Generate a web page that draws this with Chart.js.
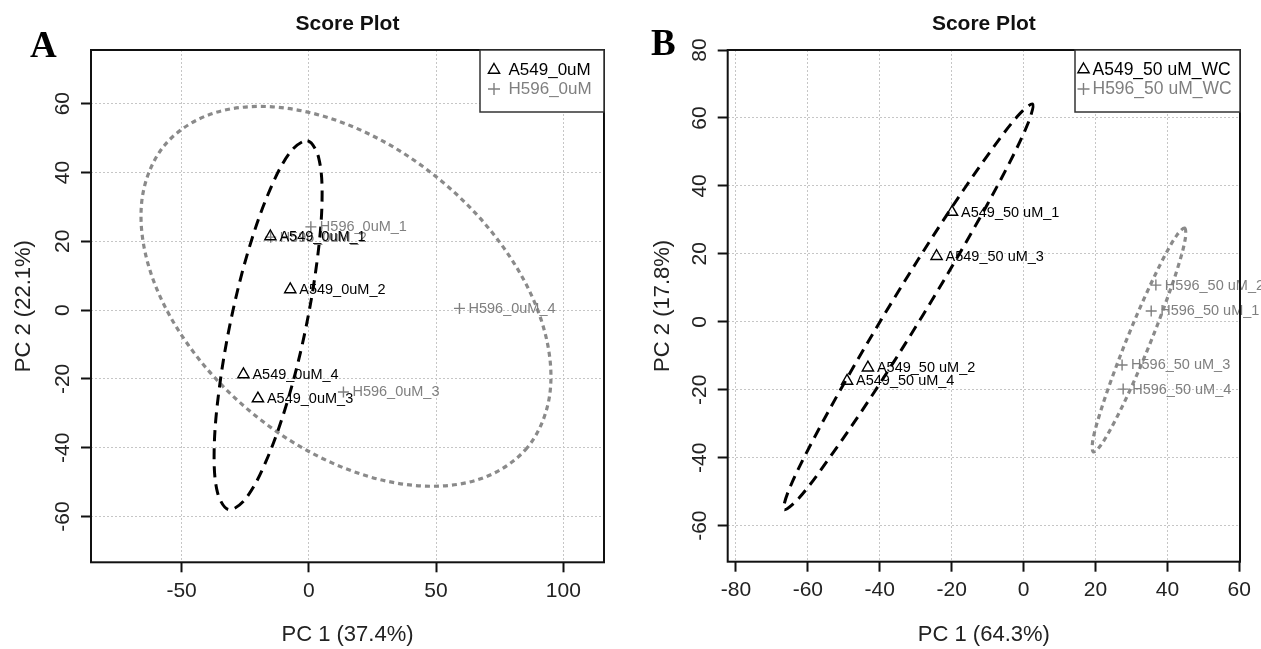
<!DOCTYPE html>
<html>
<head>
<meta charset="utf-8">
<title>Score Plot</title>
<script src="https://cdn.jsdelivr.net/npm/chart.js@4.4.0/dist/chart.umd.min.js"></script>
<style>
  html, body { margin: 0; padding: 0; background: #fff; }
  #wrap { position: relative; width: 1261px; height: 649px; overflow: hidden; }
  canvas { position: absolute; top: 0; }
</style>
</head>
<body>
<div id="wrap">
  <canvas id="chartA" width="630" height="649" style="left:0px"></canvas>
  <canvas id="chartB" width="631" height="649" style="left:630px"></canvas>
</div>
<script>
// ---- panel A : 0uM ----
var groupsA = ['A549_0uM', 'H596_0uM'];
var a549NamesA = ['A549_0uM_1', 'A549_0uM_2', 'A549_0uM_3', 'A549_0uM_4'];
var a549XA = [-15.1, -7.3, -20.0, -25.7];
var a549YA = [21.4, 6.0, -25.7, -18.7];
var h596NamesA = ['H596_0uM_1', 'H596_0uM_2', 'H596_0uM_3', 'H596_0uM_4'];
var h596XA = [0.8, -15.0, 13.6, 59.2];
var h596YA = [24.2, 21.2, -23.8, 0.5];
// 95% ellipses, outline
var a549EllXA = [-0.5, 3.9, 5.2, 3.2, -1.6, -8.6, -16.8, -24.8, -31.5, -35.9, -37.2, -35.2, -30.4, -23.4, -15.2, -7.2];
var a549EllYA = [49.2, 44.2, 31.9, 14.0, -6.7, -27.0, -43.9, -54.8, -58.0, -53.0, -40.7, -22.8, -2.1, 18.2, 35.1, 46.0];
var h596EllXA = [85.8, 66.0, 38.3, 7.0, -23.1, -47.5, -62.4, -65.6, -56.6, -36.8, -9.1, 22.2, 52.3, 76.7, 91.6, 94.8];
var h596EllYA = [-40.0, -49.4, -50.7, -43.7, -29.4, -10.0, 11.5, 31.9, 48.0, 57.4, 58.7, 51.7, 37.4, 18.0, -3.5, -23.9];
var xTicksA = [-50, 0, 50, 100];
var yTicksA = [-60, -40, -20, 0, 20, 40, 60];

// ---- panel B : 50 uM WC ----
var groupsB = ['A549_50 uM_WC', 'H596_50 uM_WC'];
var a549NamesB = ['A549_50 uM_1', 'A549_50 uM_2', 'A549_50 uM_3', 'A549_50 uM_4'];
var a549XB = [-19.9, -43.3, -24.2, -49.1];
var a549YB = [32.3, -13.5, 19.3, -17.4];
var h596NamesB = ['H596_50 uM_1', 'H596_50 uM_2', 'H596_50 uM_3', 'H596_50 uM_4'];
var h596XB = [35.5, 36.8, 27.4, 27.7];
var h596YB = [3.2, 10.8, -12.7, -19.8];
var a549EllXB = [2.5, 1.3, -4.9, -15.2, -28.1, -41.6, -53.7, -62.4, -66.6, -65.4, -59.2, -48.9, -36.0, -22.5, -10.4, -1.7];
var a549EllYB = [64.1, 58.6, 44.8, 24.9, 1.8, -20.8, -39.6, -51.8, -55.3, -49.8, -36.1, -16.2, 6.9, 29.6, 48.4, 60.5];
var h596EllXB = [44.8, 45.0, 43.2, 39.7, 35.1, 30.0, 25.2, 21.5, 19.4, 19.2, 21.0, 24.5, 29.1, 34.2, 39.0, 42.7];
var h596EllYB = [27.6, 24.6, 17.0, 6.1, -6.6, -19.2, -29.6, -36.3, -38.3, -35.3, -27.8, -16.8, -4.1, 8.4, 18.9, 25.6];
var xTicksB = [-80, -60, -40, -20, 0, 20, 40, 60];
var yTicksB = [-60, -40, -20, 0, 20, 40, 60, 80];

var FONT = "'Liberation Sans', Arial, Helvetica, sans-serif";
var SERIF = "'Liberation Serif', 'Times New Roman', serif";
var BLACK = '#000000';
var GREY = '#7f7f7f';

function pts(xs, ys) {
  return xs.map(function (x, i) { return { x: x, y: ys[i] }; });
}

// ellipses are drawn as closed curves
var closeLoop = {
  id: 'closeLoop',
  afterDatasetUpdate: function (chart, args) {
    var ds = chart.data.datasets[args.index];
    var line = args.meta.dataset;
    if (ds.closed && line) {
      line._loop = true;
      line._fullLoop = true;
      line._segments = undefined;
    }
  }
};

function drawSymbol(ctx, style, x, y, r) {
  ctx.beginPath();
  if (style === 'triangle') {
    var s = r * Math.sin(Math.PI / 3);
    ctx.moveTo(x, y - r);
    ctx.lineTo(x + s, y + r / 2);
    ctx.lineTo(x - s, y + r / 2);
    ctx.closePath();
  } else {
    ctx.moveTo(x - r, y); ctx.lineTo(x + r, y);
    ctx.moveTo(x, y - r); ctx.lineTo(x, y + r);
  }
  ctx.stroke();
}

var decor = {
  id: 'decor',
  afterDatasetsDraw: function (chart, args, o) {
    var ctx = chart.ctx, a = chart.chartArea;
    var sets = chart.data.datasets;
    ctx.save();
    // sample names, grey group first so black text sits on top
    ctx.font = '14.5px ' + FONT;
    ctx.textBaseline = 'middle';
    ctx.textAlign = 'left';
    for (var i = sets.length - 1; i >= 0; i--) {
      if (!sets[i].names) continue;
      ctx.fillStyle = sets[i].pointBorderColor;
      chart.getDatasetMeta(i).data.forEach(function (el, j) {
        ctx.fillText(sets[i].names[j], el.x + 9, el.y + 0.5);
      });
    }
    // frame
    ctx.strokeStyle = '#111';
    ctx.lineWidth = 2;
    ctx.strokeRect(a.left, a.top, a.right - a.left, a.bottom - a.top);
    // legend in the top right corner
    var lg = o.legend;
    var lx = a.right - lg.width, ly = a.top;
    ctx.fillStyle = '#fff';
    ctx.fillRect(lx, ly, lg.width, lg.height);
    ctx.lineWidth = 1.5;
    ctx.strokeStyle = '#333';
    ctx.strokeRect(lx, ly, lg.width, lg.height);
    ctx.font = lg.size + 'px ' + FONT;
    var row = 0;
    sets.forEach(function (ds) {
      if (!ds.names) return;
      var yy = ly + lg.rows[row++];
      ctx.strokeStyle = ds.pointBorderColor;
      ctx.fillStyle = ds.pointBorderColor;
      ctx.lineWidth = 1.4;
      drawSymbol(ctx, ds.pointStyle, lx + lg.symX, yy, ds.pointStyle === 'triangle' ? 6.5 : 6);
      ctx.fillText(ds.label, lx + lg.textX, yy + 0.5);
    });
    ctx.restore();
  },
  afterDraw: function (chart, args, o) {
    var ctx = chart.ctx, a = chart.chartArea;
    ctx.save();
    ctx.fillStyle = '#111';
    ctx.textAlign = 'center';
    ctx.textBaseline = 'middle';
    ctx.font = 'bold 21px ' + FONT;
    ctx.fillText('Score Plot', (a.left + a.right) / 2, 24);
    ctx.textAlign = 'left';
    ctx.textBaseline = 'alphabetic';
    ctx.fillStyle = '#000';
    ctx.font = 'bold 37px ' + SERIF;
    ctx.fillText(o.letter, o.letterX, o.letterY);
    ctx.restore();
  }
};

function scorePlot(id, p) {
  var tickFont = { family: FONT, size: 21 };
  var titleFont = { family: FONT, size: 22 };
  var grid = { color: '#c6c6c6', lineWidth: 1, tickLength: 10, tickColor: '#111', tickWidth: 2, tickBorderDash: [] };
  var border = { display: false, dash: [2, 2] };
  return new Chart(document.getElementById(id), {
    type: 'scatter',
    data: {
      datasets: [
        { label: 'ellipse ' + p.groups[0], data: pts(p.ell1X, p.ell1Y), showLine: true, closed: true, spanGaps: true,
          pointRadius: 0, pointHitRadius: 0, borderColor: BLACK, borderWidth: 3, borderDash: [11, 7], tension: 0.34, fill: false },
        { label: 'ellipse ' + p.groups[1], data: pts(p.ell2X, p.ell2Y), showLine: true, closed: true, spanGaps: true,
          pointRadius: 0, pointHitRadius: 0, borderColor: '#8a8a8a', borderWidth: 3.2, borderDash: [5, 4], tension: 0.34, fill: false },
        { label: p.groups[0], names: p.names1, data: pts(p.x1, p.y1), pointStyle: 'triangle', pointRadius: 6.5,
          pointBorderColor: BLACK, pointBackgroundColor: 'rgba(0,0,0,0)', pointBorderWidth: 1.4 },
        { label: p.groups[1], names: p.names2, data: pts(p.x2, p.y2), pointStyle: 'cross', pointRadius: 5.5,
          pointBorderColor: GREY, pointBackgroundColor: 'rgba(0,0,0,0)', pointBorderWidth: 1.4 }
      ]
    },
    options: {
      responsive: false,
      animation: false,
      events: [],
      layout: { padding: { top: 50, right: p.padRight, left: 0, bottom: 0 } },
      scales: {
        x: {
          type: 'linear', min: p.xMin, max: p.xMax,
          afterBuildTicks: function (s) { s.ticks = p.xTicks.map(function (v) { return { value: v }; }); },
          ticks: { font: tickFont, color: '#222', padding: 6, autoSkip: false, minRotation: 0, maxRotation: 0 },
          grid: grid, border: border,
          title: { display: true, text: p.xTitle, font: titleFont, color: '#222', padding: { top: 0, bottom: 1 } },
          afterFit: function (s) { s.height = p.xAxisH; s.paddingLeft = 0; s.paddingRight = 0; }
        },
        y: {
          type: 'linear', min: p.yMin, max: p.yMax,
          afterBuildTicks: function (s) { s.ticks = p.yTicks.map(function (v) { return { value: v }; }); },
          ticks: { font: tickFont, color: '#222', padding: p.yTickPad, autoSkip: false, minRotation: 90, maxRotation: 90, crossAlign: 'center' },
          grid: grid, border: border,
          title: { display: true, text: p.yTitle, font: titleFont, color: '#222', padding: { top: p.yTitlePad, bottom: 0 } },
          afterFit: function (s) { s.width = p.yAxisW; s.paddingTop = 0; s.paddingBottom = 0; }
        }
      },
      plugins: {
        legend: { display: false },
        tooltip: { enabled: false },
        decor: { letter: p.letter, letterX: p.letterX, letterY: p.letterY, legend: p.legend }
      }
    },
    plugins: [closeLoop, decor]
  });
}

scorePlot('chartA', {
  groups: groupsA, names1: a549NamesA, x1: a549XA, y1: a549YA,
  names2: h596NamesA, x2: h596XA, y2: h596YA,
  ell1X: a549EllXA, ell1Y: a549EllYA, ell2X: h596EllXA, ell2Y: h596EllYA,
  xTicks: xTicksA, yTicks: yTicksA,
  xMin: -85.6, xMax: 116.0, yMin: -73.3, yMax: 75.6,
  xTitle: 'PC 1 (37.4%)', yTitle: 'PC 2 (22.1%)',
  yAxisW: 91, xAxisH: 86.7, padRight: 26, yTickPad: 2.4, yTitlePad: 11,
  letter: 'A', letterX: 30, letterY: 56.5,
  legend: { width: 124, height: 62, symX: 14, textX: 28.5, size: 17, rows: [20, 39] }
});

scorePlot('chartB', {
  groups: groupsB, names1: a549NamesB, x1: a549XB, y1: a549YB,
  names2: h596NamesB, x2: h596XB, y2: h596YB,
  ell1X: a549EllXB, ell1Y: a549EllYB, ell2X: h596EllXB, ell2Y: h596EllYB,
  xTicks: xTicksB, yTicks: yTicksB,
  xMin: -82.3, xMax: 60.2, yMin: -70.6, yMax: 80.0,
  xTitle: 'PC 1 (64.3%)', yTitle: 'PC 2 (17.8%)',
  yAxisW: 97.7, xAxisH: 87.3, padRight: 21, yTickPad: 2, yTitlePad: 20,
  letter: 'B', letterX: 21, letterY: 55,
  legend: { width: 165, height: 62, symX: 8.5, textX: 17.5, size: 17.5, rows: [19.5, 39] }
});
</script>
</body>
</html>
